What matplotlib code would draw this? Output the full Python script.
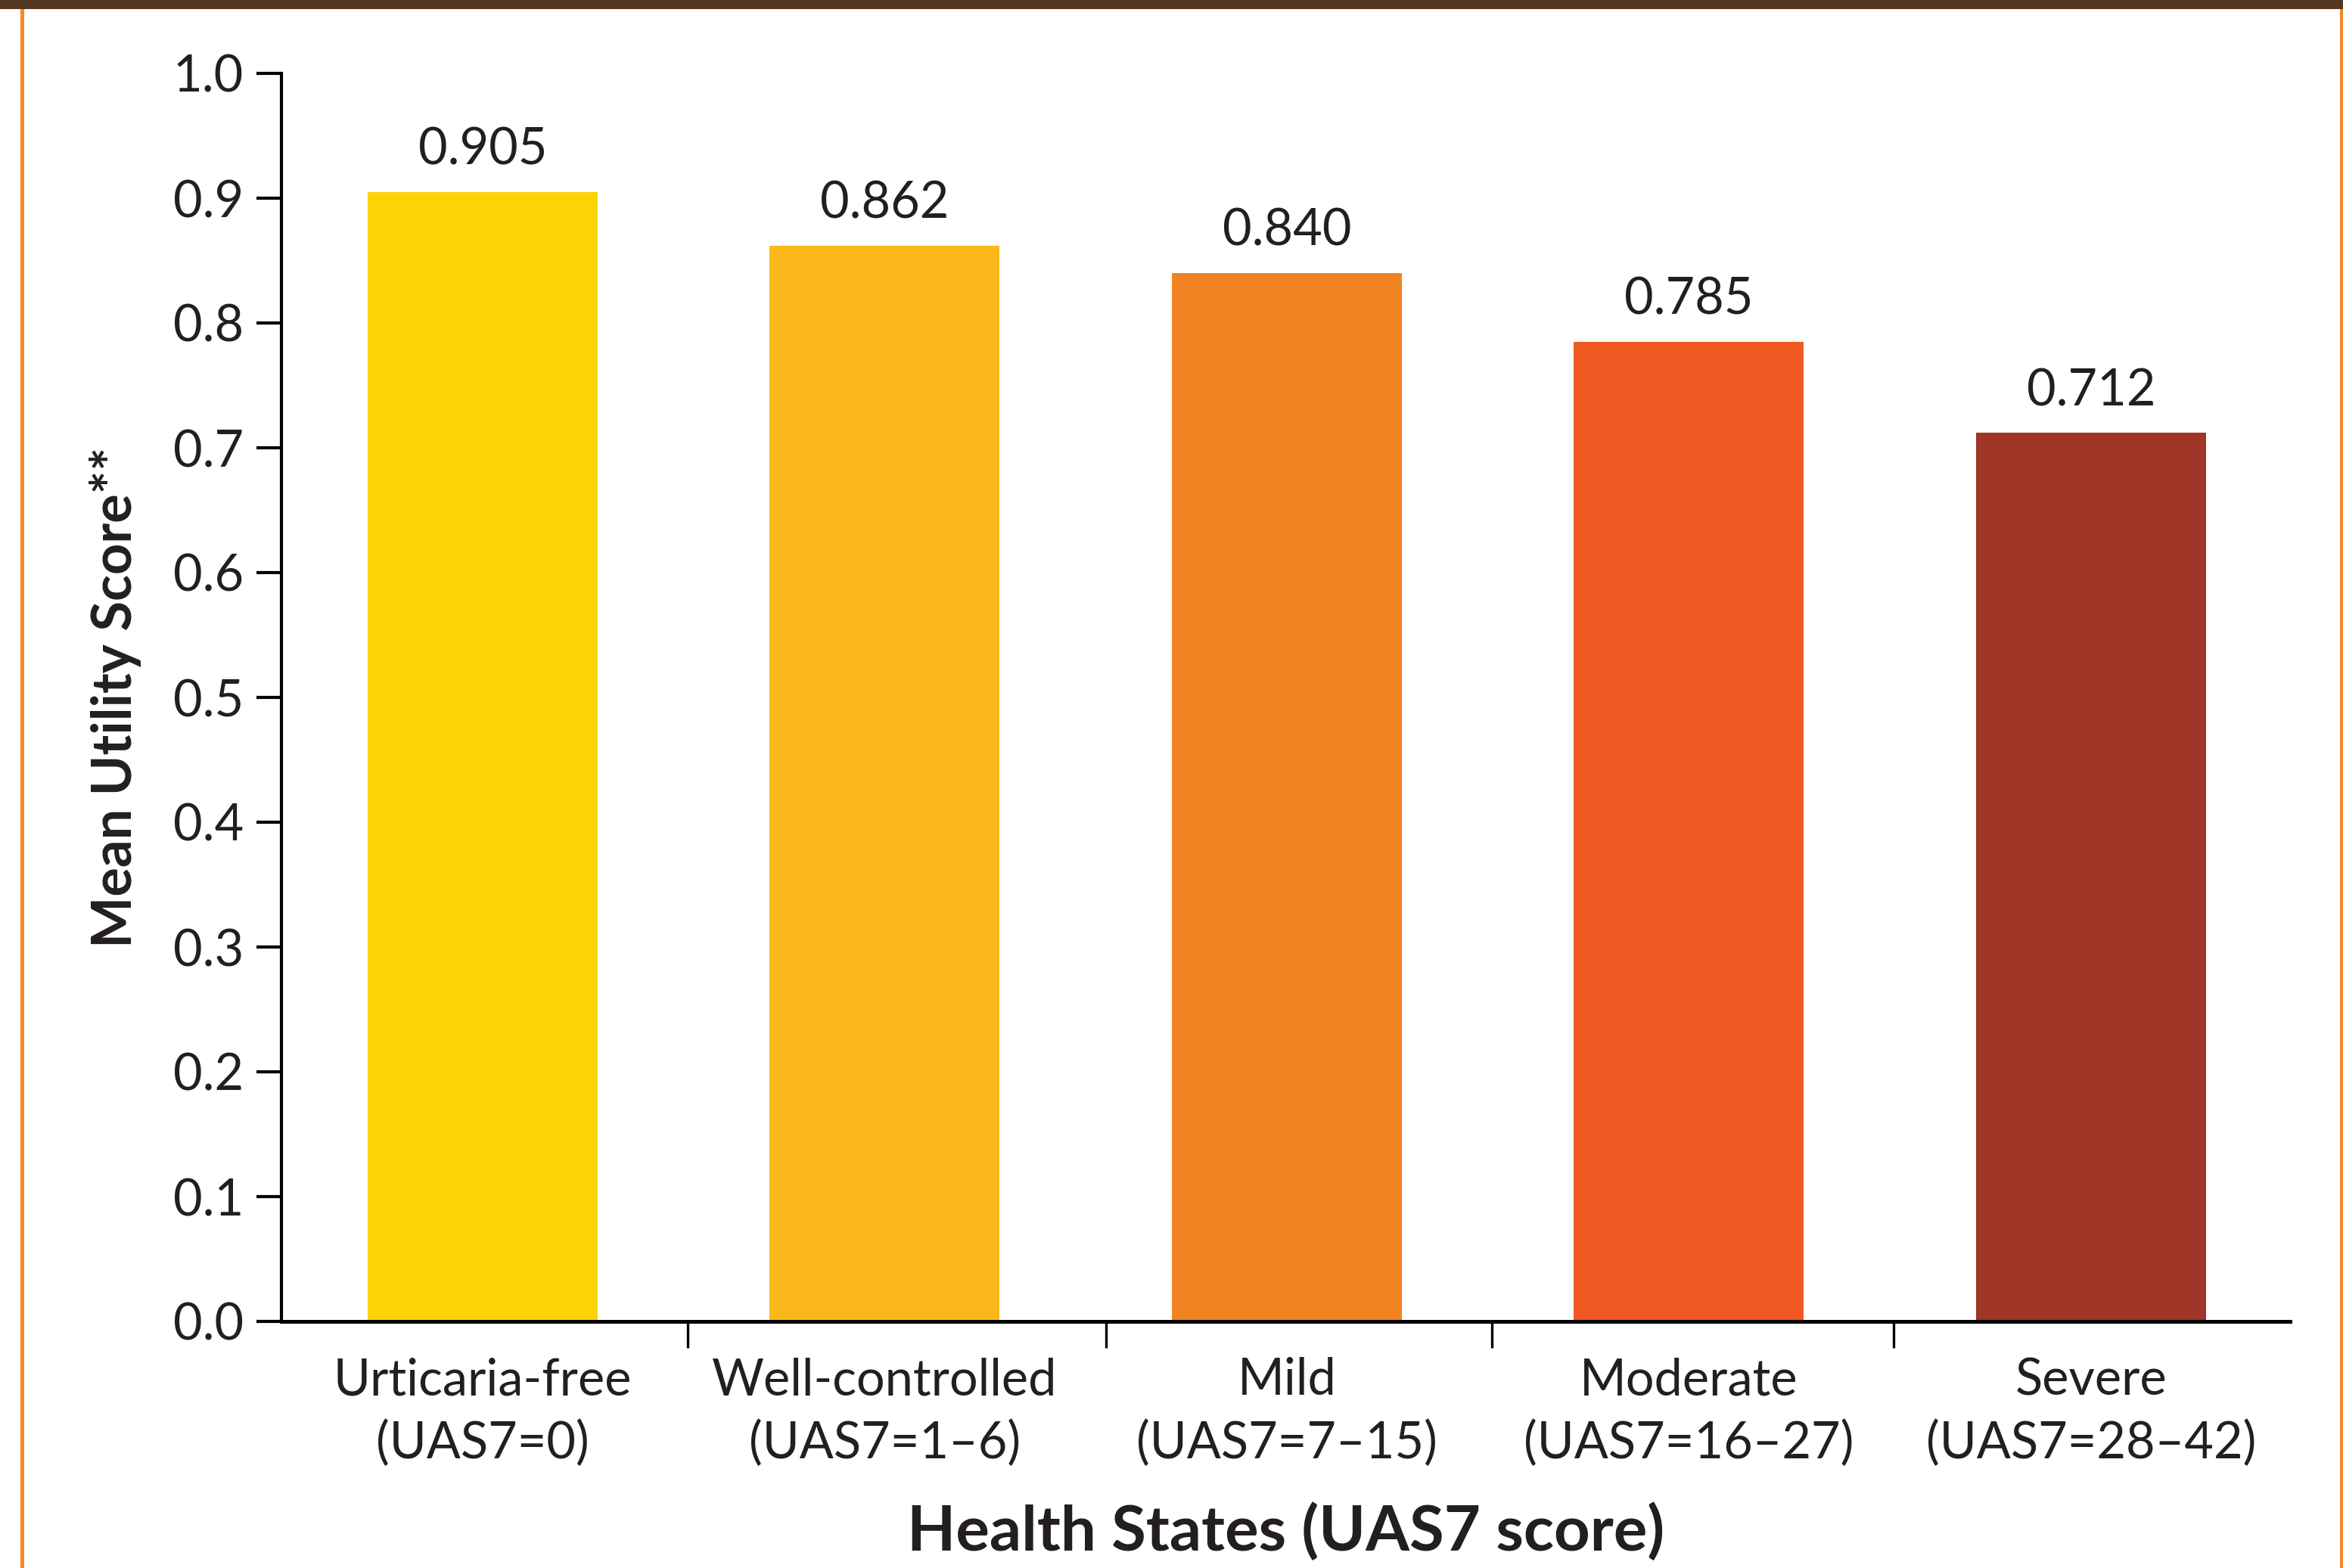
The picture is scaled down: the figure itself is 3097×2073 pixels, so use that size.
import matplotlib
matplotlib.use('Agg')
import matplotlib.pyplot as plt
from matplotlib.patches import Rectangle

# health state categories and mean utility
states = ['Urticaria-free', 'Well-controlled', 'Mild', 'Moderate', 'Severe']
uas7_ranges = ['(UAS7=0)', '(UAS7=1\u20136)', '(UAS7=7\u201315)', '(UAS7=16\u201327)', '(UAS7=28\u201342)']
utility = [0.905, 0.862, 0.840, 0.785, 0.712]
value_text = ['0.905', '0.862', '0.840', '0.785', '0.712']
bar_colors = ['#FCD405', '#FBB81A', '#F28322', '#F05A22', '#9F3526']
yticks = [0.0, 0.1, 0.2, 0.3, 0.4, 0.5, 0.6, 0.7, 0.8, 0.9, 1.0]

plt.rcParams['font.family'] = ['Lato', 'DejaVu Sans']
txt_col = '#231F20'

W, H = 3097, 2073
fig = plt.figure(figsize=(W / 100, H / 100), dpi=100)
fig.patch.set_facecolor('white')

# page frame: dark band on top, orange rules at the sides
fig.add_artist(Rectangle((0, 1 - 12 / H), 1, 12 / H, transform=fig.transFigure,
                         color='#523822', lw=0))
fig.add_artist(Rectangle((27 / W, 0), 5 / W, 1 - 12 / H, transform=fig.transFigure,
                         color='#F7882A', lw=0))
fig.add_artist(Rectangle((3093 / W, 0), 4 / W, 1 - 12 / H, transform=fig.transFigure,
                         color='#F7882A', lw=0))

ax = fig.add_axes([372 / W, 1 - 1747 / H, (3027 - 372) / W, (1747 - 97) / H])

x = list(range(len(states)))
bars = ax.bar(x, utility, width=0.572, color=bar_colors, zorder=1)

for xi, v, t in zip(x, utility, value_text):
    ax.annotate(t, (xi, v), xytext=(0, 26), textcoords='offset points',
                ha='center', va='baseline', fontsize=48, color=txt_col)

ax.set_xlim(-0.5, 4.495)
ax.set_ylim(0, 1.0)

ax.spines['top'].set_visible(False)
ax.spines['right'].set_visible(False)
ax.spines['left'].set_linewidth(3)
ax.spines['bottom'].set_linewidth(3.6)
ax.spines['left'].set_color('black')
ax.spines['bottom'].set_color('black')

ax.set_yticks(yticks)
ax.set_yticklabels(['%.1f' % v for v in yticks])
ax.tick_params(axis='y', direction='out', length=24, width=3, pad=12,
               labelsize=48, labelcolor=txt_col)

ax.set_xticks(x)
ax.set_xticklabels([s + '\n' + r for s, r in zip(states, uas7_ranges)],
                   linespacing=1.42)
ax.tick_params(axis='x', which='major', length=0, pad=34,
               labelsize=48, labelcolor=txt_col)
ax.set_xticks([0.51, 1.55, 2.51, 3.51], minor=True)
ax.tick_params(axis='x', which='minor', direction='out', length=25, width=2.4)

ax.set_ylabel('Mean Utility Score**', fontsize=52, fontweight='bold',
              color=txt_col, labelpad=30)
ax.set_xlabel('Health States (UAS7 score)', fontsize=60, fontweight='bold',
              color=txt_col, labelpad=33)

fig.savefig('out.png', dpi=100)
